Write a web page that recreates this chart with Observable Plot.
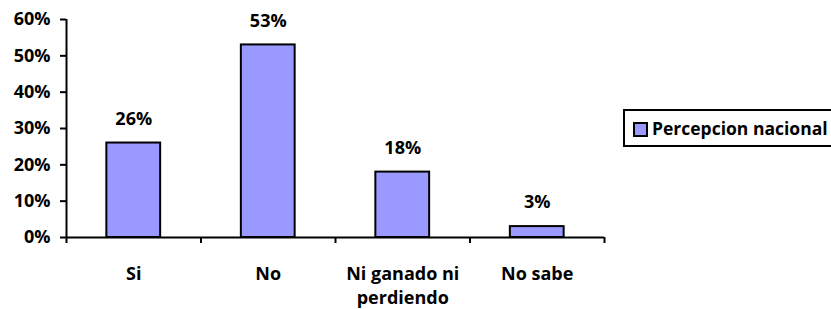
<!DOCTYPE html>
<html>
<head>
<meta charset="utf-8">
<script src="https://cdn.jsdelivr.net/npm/d3@7"></script>
<script src="https://cdn.jsdelivr.net/npm/@observablehq/plot@0.6"></script>
<style>
  html, body { margin: 0; padding: 0; background: #fff; overflow: hidden; }
  #wrap { position: relative; width: 831px; height: 309px; overflow: hidden; font-family: 'Open Sans', sans-serif; font-weight: bold; }
  #legend { position: absolute; left: 623px; top: 109px; width: 240px; height: 34px; border: 2px solid #000; background: #fff; box-sizing: content-box; }
  #legend .sw { position: absolute; left: 8px; top: 11px; width: 11px; height: 11px; border: 2px solid #000; background: #9999FF; }
  #legend .lbl { position: absolute; left: 27px; top: 0; line-height: 34px; font-size: 17.5px; color: #000; white-space: nowrap; }
</style>
</head>
<body>
<div id="wrap"></div>
<script>
const categories = ["Si", "No", "Ni ganado ni\nperdiendo", "No sabe"];
const values = [26, 53, 18, 3];
const yTicks = [0, 10, 20, 30, 40, 50, 60];
const seriesName = "Percepcion nacional";

const data = categories.map((c, i) => ({c, i, v: values[i]}));
const bounds = d3.range(categories.length + 1);

const chart = Plot.plot({
  width: 831,
  height: 309,
  marginLeft: 66,
  marginRight: 227,
  marginTop: 19,
  marginBottom: 72,
  x: {domain: [0, categories.length], axis: null, label: null},
  y: {domain: [0, 60], axis: null, label: null},
  style: {fontFamily: "'Open Sans', sans-serif", fontWeight: "bold", fontSize: "18px", color: "#000", background: "#fff"},
  marks: [
    Plot.rectY(data, {x1: d => d.i + 0.3, x2: d => d.i + 0.7, y1: 0, y2: "v", fill: "#9999FF", stroke: "#000", strokeWidth: 2}),
    Plot.axisY(yTicks, {tickSize: 6, tickPadding: 10, tickFormat: d => d + "%", strokeWidth: 2, fontSize: 18, fontWeight: "bold", label: null}),
    Plot.axisX(bounds, {tickSize: 6, tickFormat: () => "", strokeWidth: 2, label: null}),
    Plot.ruleX([0], {y1: 0, y2: 60, strokeWidth: 2}),
    Plot.ruleY([0], {x1: 0, x2: categories.length, strokeWidth: 2}),
    Plot.text(data, {x: d => d.i + 0.5, y: "v", text: d => d.v + "%", dy: -24, fontSize: 18, fontWeight: "bold"}),
    Plot.text(data, {x: d => d.i + 0.5, y: 0, text: "c", dy: 25, lineAnchor: "top", lineHeight: 1.36, fontSize: 18, fontWeight: "bold"})
  ]
});
document.getElementById("wrap").appendChild(chart);

const legend = document.createElement("div");
legend.id = "legend";
legend.innerHTML = '<div class="sw"></div><div class="lbl"></div>';
legend.querySelector(".lbl").textContent = seriesName;
document.getElementById("wrap").appendChild(legend);
</script>
</body>
</html>
